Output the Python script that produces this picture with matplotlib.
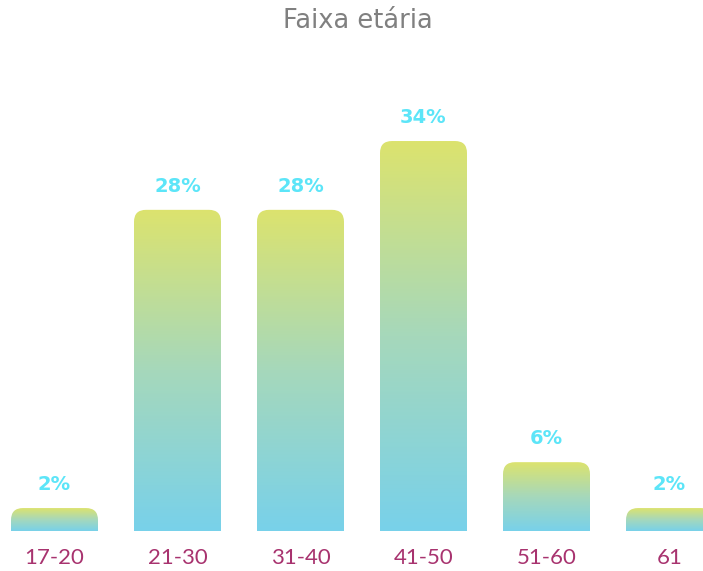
import numpy as np
from matplotlib import pyplot as plt
from matplotlib.path import Path
from matplotlib.patches import PathPatch
from matplotlib.colors import LinearSegmentedColormap

categories = ['17-20', '21-30', '31-40', '41-50', '51-60', '61']
values = [2, 28, 28, 34, 6, 2]
labels = ['2%', '28%', '28%', '34%', '6%', '2%']

grad = LinearSegmentedColormap.from_list('faixa', ['#78d1ea', '#a6d8bb', '#dce36e'])

fig = plt.figure(figsize=(7.03, 5.71), dpi=100)
ax = fig.add_axes([0, 40 / 571, 1, 471 / 571])

x_min, x_max = -54.5 / 123, (703 - 54.5) / 123
y_max = 471 / 11.47
ax.set_xlim(x_min, x_max)
ax.set_ylim(0, y_max)

width = 87 / 123
rx = 12 / 123
ry = 12 / 11.47
g = np.linspace(0, 1, 256).reshape(-1, 1)

for i, (v, lab) in enumerate(zip(values, labels)):
    x0, x1 = i - width / 2, i + width / 2
    r_y = min(ry, v)
    verts = [(x0, 0), (x0, v - r_y), (x0, v), (x0 + rx, v), (x1 - rx, v),
             (x1, v), (x1, v - r_y), (x1, 0), (x0, 0)]
    codes = [Path.MOVETO, Path.LINETO, Path.CURVE3, Path.CURVE3, Path.LINETO,
             Path.CURVE3, Path.CURVE3, Path.LINETO, Path.CLOSEPOLY]
    patch = PathPatch(Path(verts, codes), facecolor='none', edgecolor='none')
    ax.add_patch(patch)
    im = ax.imshow(g, cmap=grad, origin='lower', extent=(x0, x1, 0, v),
                   aspect='auto', interpolation='bilinear')
    im.set_clip_path(patch)
    ax.annotate(lab, (i, v), xytext=(0, 17), textcoords='offset points',
                ha='center', va='center', color='#5ce5f8',
                fontsize=14, fontweight='heavy')

ax.set_xticks(range(len(categories)))
ax.set_xticklabels(categories, color='#a8336f', fontsize=16, family='Lato')
ax.tick_params(axis='x', length=0, pad=12)
ax.set_yticks([])
for s in ax.spines.values():
    s.set_visible(False)

fig.text(358 / 703, 1 - 21 / 571, 'Faixa etária', ha='center', va='center',
         color='#808080', fontsize=18.5)

fig.savefig('out.png', dpi=100)
